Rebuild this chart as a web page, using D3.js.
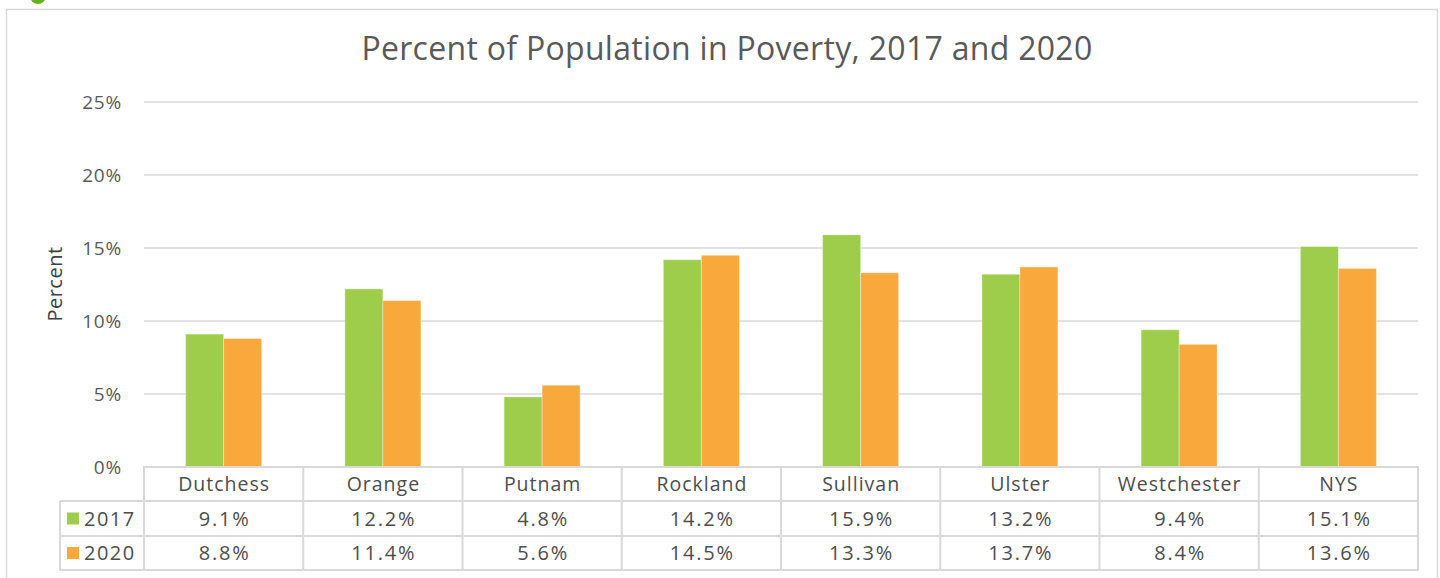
<!DOCTYPE html>
<html><head><meta charset="utf-8">
<script src="https://cdn.jsdelivr.net/npm/d3@7"></script>
<style>body{margin:0;background:#fff;}svg{display:block;font-family:"Open Sans",sans-serif;}</style>
</head><body>
<svg id="c" width="1440" height="578"></svg>
<script>
const categories = ["Dutchess","Orange","Putnam","Rockland","Sullivan","Ulster","Westchester","NYS"];
const seriesNames = ["2017","2020"];
const values2017 = [9.1,12.2,4.8,14.2,15.9,13.2,9.4,15.1];
const values2020 = [8.8,11.4,5.6,14.5,13.3,13.7,8.4,13.6];
const yTicks = [0,5,10,15,20,25];
const colors = ["#9dcd4b","#f9a83b"];
const title = "Percent of Population in Poverty, 2017 and 2020";

const svg = d3.select("#c");
const series = [values2017, values2020];
const textCol = "#595959", gridCol = "#d9d9d9";

// outer border and stray mark
svg.append("circle").attr("cx",38).attr("cy",-4).attr("r",8).attr("fill","#6ab023");
svg.append("rect").attr("x",6.5).attr("y",9.5).attr("width",1431).attr("height",580)
  .attr("fill","none").attr("stroke",gridCol).attr("stroke-width",1.5);

const pLeft=144, pRight=1418, pTop=102, pBottom=467;
const x = d3.scaleBand().domain(categories).range([pLeft,pRight]);
const y = d3.scaleLinear().domain([0,25]).range([pBottom,pTop]);

svg.append("text").attr("x",727).attr("y",60).attr("text-anchor","middle")
  .attr("fill",textCol).attr("font-size",32).attr("letter-spacing",0.3).text(title);

// gridlines
svg.append("g").selectAll("line").data(yTicks.filter(d=>d>0)).join("line")
  .attr("x1",pLeft).attr("x2",pRight).attr("y1",d=>y(d)).attr("y2",d=>y(d))
  .attr("stroke",gridCol).attr("stroke-width",1.5);

// y axis labels
const yAxis = d3.axisLeft(y).tickValues(yTicks).tickFormat(d=>d+"%").tickSize(0).tickPadding(0);
const ga = svg.append("g").attr("transform",`translate(122,0)`).call(yAxis);
ga.select(".domain").remove();
ga.selectAll("text").attr("font-size",19).attr("letter-spacing",0.8).attr("fill",textCol).attr("font-family","Open Sans").attr("dy","0.35em");

svg.append("text").attr("transform","translate(62,284) rotate(-90)").attr("text-anchor","middle")
  .attr("font-size",20).attr("letter-spacing",0.5).attr("fill","#404040").text("Percent");

// bars
const bw = 38;
const xs = d3.scaleBand().domain(seriesNames).range([0,bw*2]);
categories.forEach((c,i)=>{
  const cx = x(c)+x.bandwidth()/2 - bw;
  seriesNames.forEach((s,j)=>{
    svg.append("rect").attr("x",cx+xs(s)).attr("y",y(series[j][i])).attr("width",bw)
      .attr("height",y(0)-y(series[j][i])).attr("fill",colors[j])
      .attr("stroke","rgba(255,255,255,0.35)").attr("stroke-width",1);
  });
});

// data table
const rowY = [467,501,536,570];
const tbl = svg.append("g");
const hl = (x1,x2,yy)=>tbl.append("line").attr("x1",x1).attr("x2",x2).attr("y1",yy).attr("y2",yy).attr("stroke",gridCol).attr("stroke-width",2);
const vl = (xx,y1,y2)=>tbl.append("line").attr("x1",xx).attr("x2",xx).attr("y1",y1).attr("y2",y2).attr("stroke",gridCol).attr("stroke-width",2);
hl(pLeft-1,pRight+1,rowY[0]);
hl(60,pRight+1,rowY[1]); hl(60,pRight+1,rowY[2]); hl(60,pRight+1,rowY[3]);
vl(60,rowY[1],rowY[3]+1);
categories.forEach(c=>vl(x(c),rowY[0],rowY[3]));
vl(pRight,rowY[0],rowY[3]+1);

categories.forEach(c=>{
  tbl.append("text").attr("x",x(c)+x.bandwidth()/2+0.5).attr("y",(rowY[0]+rowY[1])/2).attr("dy","0.35em")
   .attr("text-anchor","middle").attr("font-size",19.5).attr("letter-spacing",1).attr("fill","#4d4d4d").text(c);
});
seriesNames.forEach((s,j)=>{
  const cy=(rowY[j+1]+rowY[j+2])/2;
  tbl.append("rect").attr("x",67).attr("y",cy-6).attr("width",12).attr("height",12).attr("fill",colors[j]);
  tbl.append("text").attr("x",84).attr("y",cy).attr("dy","0.35em").attr("font-size",20).attr("letter-spacing",1.5).attr("fill","#4d4d4d").text(s);
  categories.forEach((c,i)=>{
    tbl.append("text").attr("x",x(c)+x.bandwidth()/2+1).attr("y",cy).attr("dy","0.35em")
      .attr("text-anchor","middle").attr("font-size",20).attr("letter-spacing",1.8).attr("fill","#4d4d4d").text(series[j][i].toFixed(1)+"%");
  });
});
</script>
</body></html>
